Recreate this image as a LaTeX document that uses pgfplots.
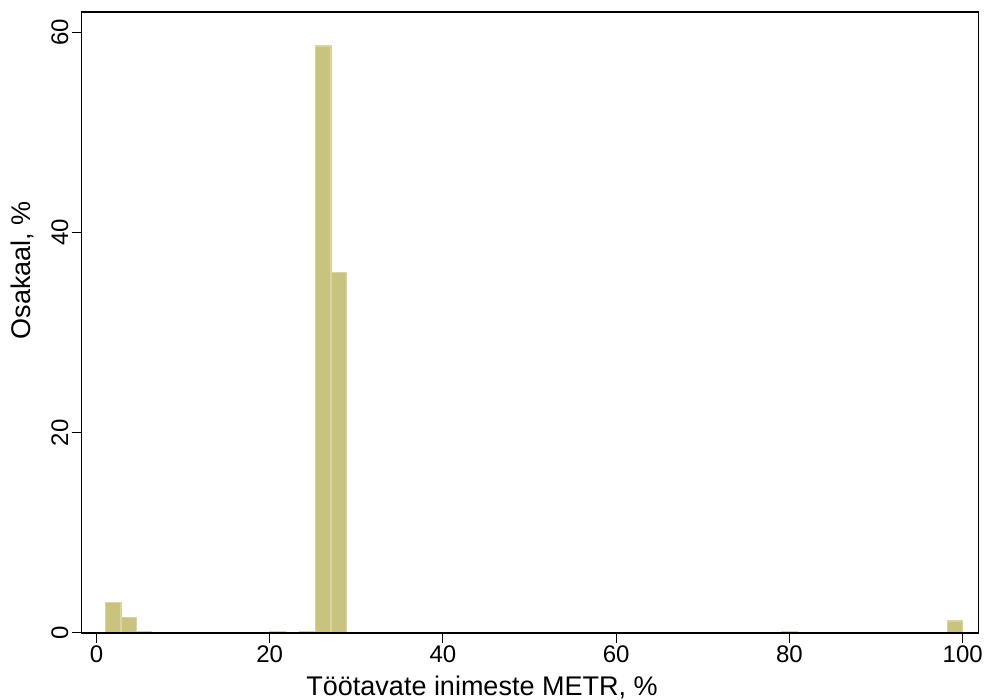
\documentclass[border=0pt]{standalone}
\usepackage{pgfplots}
\pgfplotsset{compat=1.18}
\usepackage{fontspec}
\setmainfont{Liberation Sans}
\definecolor{barfill}{RGB}{200,196,128}
\definecolor{barline}{RGB}{216,212,160}
\begin{document}
\begin{tikzpicture}[x=1bp,y=1bp]
\useasboundingbox (0,0) rectangle (986,700);
\begin{axis}[
  at={(81.5bp,67bp)}, anchor=south west,
  scale only axis, width=897.2bp, height=621bp,
  xmin=-1.73, xmax=101.85, ymin=0, ymax=62,
  xtick={0,20,40,60,80,100}, ytick={0,20,40,60},
  tick align=outside, tick pos=left,
  major tick length=10bp,
  every tick/.style={black, line width=1bp},
  axis line style={line width=1.2bp},
  axis on top,
  /pgf/number format/assume math mode=true,
  tick label style={font=\fontsize{24bp}{28bp}\selectfont},
  label style={font=\fontsize{27bp}{31bp}\selectfont},
  yticklabel style={rotate=90, anchor=south, inner sep=3bp},
  xticklabel style={inner sep=3bp},
  xlabel={Töötavate inimeste METR, \%},
  ylabel={Osakaal, \%},
  xlabel style={at={(axis description cs:0.4464,-0.0880)}, anchor=center},
  ylabel style={at={(axis description cs:-0.0663,0.5845)}, anchor=center, rotate=0},
]
\addplot[ybar, bar width=1.8, fill=barfill, draw=barline, line width=1.2bp]
  coordinates {(1.93,3.07) (3.76,1.57) (5.49,0.12) (20.9,0.12) (24.35,0.12)
               (26.18,58.6) (28.0,36.0) (80.0,0.1) (99.1,1.2)};
\end{axis}
\end{tikzpicture}
\end{document}
